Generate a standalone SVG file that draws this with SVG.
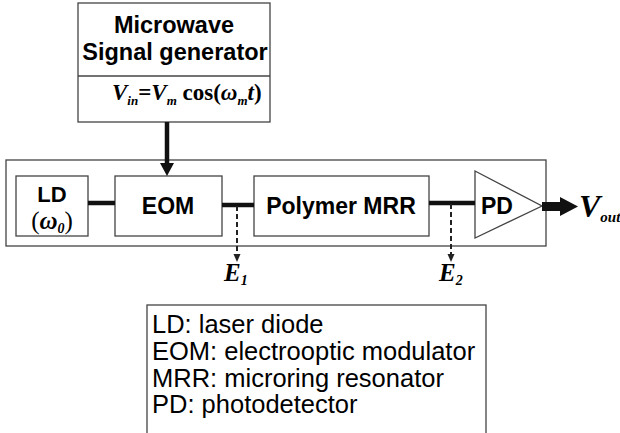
<svg xmlns="http://www.w3.org/2000/svg" width="620" height="433" viewBox="0 0 620 433">
<defs>
<style>
.box{fill:none;stroke:#444;stroke-width:1.3}
.lbl{font-family:"Liberation Sans",Arial,sans-serif;font-weight:bold;fill:#000}
.math{font-family:"Liberation Serif","Times New Roman",serif;font-weight:bold;font-style:italic;fill:#000}
.leg{font-family:"Liberation Sans",Arial,sans-serif;font-size:25.5px;fill:#000}
.thick{stroke:#111;stroke-width:4.5;fill:none}
.dash{stroke:#222;stroke-width:2;stroke-dasharray:5,3;fill:none}
</style>
</defs>

<g id="generator">
<rect class="box" x="78" y="3" width="192" height="119"/>
<line class="box" x1="78" y1="76" x2="270" y2="76"/>
<text class="lbl" x="174" y="33" font-size="23.5" text-anchor="middle">Microwave</text>
<text class="lbl" x="175" y="60" font-size="23.5" text-anchor="middle">Signal generator</text>
<text class="math" x="112" y="100" font-size="23">V<tspan font-size="13" dy="5">in</tspan><tspan font-style="normal" dy="-5">=</tspan>V<tspan font-size="13" dy="5">m</tspan><tspan font-style="normal" dy="-5"> cos(</tspan>ω<tspan font-size="13" dy="5">m</tspan><tspan dy="-5">t</tspan><tspan font-style="normal">)</tspan></text>
</g>

<g id="system">
<rect class="box" x="6" y="160" width="540" height="86"/>
</g>

<g id="LD">
<rect class="box" x="16" y="176" width="72" height="60"/>
<text class="lbl" x="52" y="202" font-size="22" text-anchor="middle">LD</text>
<text class="math" x="52" y="229" font-size="25" text-anchor="middle"><tspan font-style="normal" font-weight="normal">(</tspan>ω<tspan font-size="14" dy="4">0</tspan><tspan font-style="normal" font-weight="normal" dy="-4">)</tspan></text>
</g>

<g id="EOM">
<rect class="box" x="115" y="176" width="107" height="60"/>
<text class="lbl" x="168" y="214" font-size="23" text-anchor="middle">EOM</text>
</g>

<g id="MRR">
<rect class="box" x="254" y="176" width="175" height="60"/>
<text class="lbl" x="341" y="214" font-size="23" text-anchor="middle">Polymer MRR</text>
</g>

<g id="PD">
<polygon class="box" points="475,171 475,238 542,206"/>
<text class="lbl" x="481" y="214" font-size="23">PD</text>
</g>

<g id="connectors">
<line class="thick" x1="167" y1="122" x2="167" y2="166"/>
<polygon points="160,163 174,163 167,176" fill="#111"/>
<line class="thick" x1="88" y1="203" x2="115" y2="203"/>
<line class="thick" x1="222" y1="205" x2="254" y2="205"/>
<line class="thick" x1="429" y1="203" x2="475" y2="203" stroke="#333"/>
<line class="dash" x1="237" y1="206" x2="237" y2="256"/>
<polygon points="233.5,254 240.5,254 237,262" fill="#222"/>
<line class="dash" x1="451" y1="204" x2="451" y2="256"/>
<polygon points="447.5,254 454.5,254 451,262" fill="#222"/>
<rect x="542" y="202" width="20" height="9" fill="#111"/>
<polygon points="560,197 578,206.5 560,216" fill="#111"/>
</g>

<g id="labels">
<text class="math" x="224" y="281" font-size="25">E<tspan font-size="14" dy="4">1</tspan></text>
<text class="math" x="439" y="281" font-size="25">E<tspan font-size="14" dy="4">2</tspan></text>
<text class="math" x="579" y="217" font-size="32">V<tspan font-size="15" dy="5">out</tspan></text>
</g>

<g id="legend">
<rect class="box" x="147" y="305" width="339" height="135"/>
<text class="leg" x="152" y="333">LD: laser diode</text>
<text class="leg" x="152" y="360">EOM: electrooptic modulator</text>
<text class="leg" x="152" y="387">MRR: microring resonator</text>
<text class="leg" x="152" y="413">PD: photodetector</text>
</g>
</svg>
